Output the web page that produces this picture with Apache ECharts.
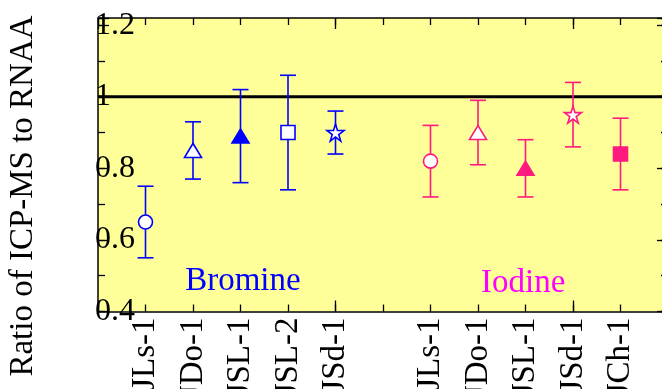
<!DOCTYPE html>
<html>
<head>
<meta charset="utf-8">
<script src="https://cdn.jsdelivr.net/npm/echarts@6/dist/echarts.min.js"></script>
<style>
html,body{margin:0;padding:0;background:#fff;}
#chart{width:662px;height:389px;}
</style>
</head>
<body>
<div id="chart"></div>
<script>
// ---- data ----
var brCategories = ['JLs-1', 'JDo-1', 'JSL-1', 'JSL-2', 'JSd-1'];
var brPositions  = [1, 2, 3, 4, 5];
var brRatio      = [0.65, 0.85, 0.89, 0.90, 0.90];
var brError      = [0.10, 0.08, 0.13, 0.16, 0.06];

var ioCategories = ['JLs-1', 'JDo-1', 'JSL-1', 'JSd-1', 'JCh-1'];
var ioPositions  = [7, 8, 9, 10, 11];
var ioRatio      = [0.82, 0.90, 0.80, 0.95, 0.84];
var ioError      = [0.10, 0.09, 0.08, 0.09, 0.10];

var yTickLabels = {'0.4': '0.4', '0.6': '0.6', '0.8': '0.8', '1.0': '1', '1.2': '1.2'};
var referenceLine = [[0, 1], [12, 1]];
var groupLabels = [[3.05, 0.485, 'Bromine'], [8.95, 0.48, 'Iodine']];

// ---- styles ----
var STAR = 'path://M50,0 L61.2,34.5 L97.6,34.5 L68.2,55.9 L79.4,90.5 L50,69.1 L20.6,90.5 L31.8,55.9 L2.4,34.5 L38.8,34.5 Z';
var brShapes = ['circle', 'triangle', 'triangle', 'rect', STAR];
var brFilled = [false, false, true, false, false];
var ioShapes = ['circle', 'triangle', 'triangle', STAR, 'rect'];
var ioFilled = [false, false, true, false, true];
var BLUE = '#0000ff', PINK = '#ff1a80', MAGENTA = '#ff00ff';
var FONT = '"Liberation Serif", "DejaVu Serif", serif';

function sizeOf(s) {
  if (s === 'triangle') return [17, 14];
  if (s === 'rect') return 14;
  if (s === STAR) return 17;
  return 14;
}

var tickNames = {};
brPositions.forEach(function (p, i) { tickNames[p] = brCategories[i]; });
ioPositions.forEach(function (p, i) { tickNames[p] = ioCategories[i]; });

function points(pos, vals, shapes, filled, color) {
  return pos.map(function (p, i) {
    return {
      value: [p, vals[i]],
      symbol: shapes[i],
      symbolSize: sizeOf(shapes[i]),
      itemStyle: {color: filled[i] ? color : '#ffffff', borderColor: color, borderWidth: 1.6, opacity: 1}
    };
  });
}
function bars(pos, vals, errs) {
  return pos.map(function (p, i) { return [p, vals[i] - errs[i], vals[i] + errs[i]]; });
}
function errRender(color) {
  return function (params, api) {
    var x = api.value(0);
    var lo = api.coord([x, api.value(1)]);
    var hi = api.coord([x, api.value(2)]);
    var w = 8;
    var st = {stroke: color, lineWidth: 1.6};
    return {type: 'group', children: [
      {type: 'line', shape: {x1: lo[0], y1: lo[1], x2: hi[0], y2: hi[1]}, style: st},
      {type: 'line', shape: {x1: lo[0] - w, y1: lo[1], x2: lo[0] + w, y2: lo[1]}, style: st},
      {type: 'line', shape: {x1: hi[0] - w, y1: hi[1], x2: hi[0] + w, y2: hi[1]}, style: st}
    ]};
  };
}

var YMIN = 0.4, YMAX = 1.22, XMIN = 0, XMAX = 12;
function xAx(pos, interval, len, withLabel, withLine) {
  return {
    type: 'value', position: pos, min: XMIN, max: XMAX, interval: interval,
    axisLine: {show: withLine, onZero: false, lineStyle: {color: '#000', width: 1.5}},
    axisTick: {show: true, inside: true, length: len, lineStyle: {color: '#000', width: 1.3}},
    splitLine: {show: false},
    axisLabel: withLabel ? {
      show: true, rotate: 90, margin: 6, color: '#000', fontFamily: FONT, fontSize: 33,
      hideOverlap: false, showMinLabel: true, showMaxLabel: true,
      formatter: function (v) { var r = Math.round(v); return (tickNames[r] && Math.abs(v - r) < 1e-6) ? tickNames[r] : ''; }
    } : {show: false}
  };
}
function yAx(pos, interval, len, withLabel, withLine) {
  return {
    type: 'value', position: pos, min: YMIN, max: YMAX, interval: interval,
    axisLine: {show: withLine, onZero: false, lineStyle: {color: '#000', width: 1.5}},
    axisTick: {show: true, inside: true, length: len, lineStyle: {color: '#000', width: 1.3}},
    splitLine: {show: false},
    axisLabel: withLabel ? {
      show: true, inside: false, align: 'left', margin: 3, color: '#000', fontFamily: FONT, fontSize: 32,
      hideOverlap: false, showMinLabel: true, showMaxLabel: true,
      formatter: function (v) { var k = v.toFixed(1); return (Math.abs(v - YMAX) < 1e-6) ? '' : (yTickLabels[k] || ''); }
    } : {show: false}
  };
}

var chart = echarts.init(document.getElementById('chart'), null, {renderer: 'canvas'});
chart.setOption({
  animation: false,
  backgroundColor: '#ffffff',
  grid: {left: 98, top: 18, width: 570, height: 293.5, show: true, backgroundColor: '#ffff99', borderWidth: 0,
    containLabel: false, outerBoundsMode: 'none'},
  xAxis: [
    xAx('bottom', 1, 7, true, true),
    xAx('bottom', 5, 11, false, false),
    xAx('top', 1, 7, false, true),
    xAx('top', 5, 11, false, false)
  ],
  yAxis: [
    yAx('left', 0.2, 11, true, true),
    yAx('left', 0.1, 7, false, false),
    yAx('right', 0.2, 11, false, true),
    yAx('right', 0.1, 7, false, false)
  ],
  graphic: [{
    type: 'text', x: 23, y: 196, rotation: Math.PI / 2,
    style: {text: 'Ratio of ICP-MS to RNAA', fill: '#000', font: '33px ' + FONT, align: 'center', verticalAlign: 'middle'}
  }],
  series: [
    {type: 'line', data: referenceLine, symbol: 'none', lineStyle: {color: '#000', width: 3}, z: 1, silent: true},
    {type: 'custom', data: bars(brPositions, brRatio, brError), renderItem: errRender(BLUE), z: 2},
    {type: 'custom', data: bars(ioPositions, ioRatio, ioError), renderItem: errRender(PINK), z: 2},
    {type: 'scatter', data: points(brPositions, brRatio, brShapes, brFilled, BLUE), z: 3},
    {type: 'scatter', data: points(ioPositions, ioRatio, ioShapes, ioFilled, PINK), z: 3},
    {type: 'scatter', symbolSize: 0, z: 4, silent: true,
      data: [
        {value: groupLabels[0], label: {color: BLUE}},
        {value: groupLabels[1], label: {color: MAGENTA}}
      ],
      itemStyle: {color: '#000', opacity: 1},
      label: {show: true, position: 'inside', fontFamily: FONT, fontSize: 33, opacity: 1,
        formatter: function (p) { return p.value[2]; }
      }
    }
  ]
});
</script>
</body>
</html>
